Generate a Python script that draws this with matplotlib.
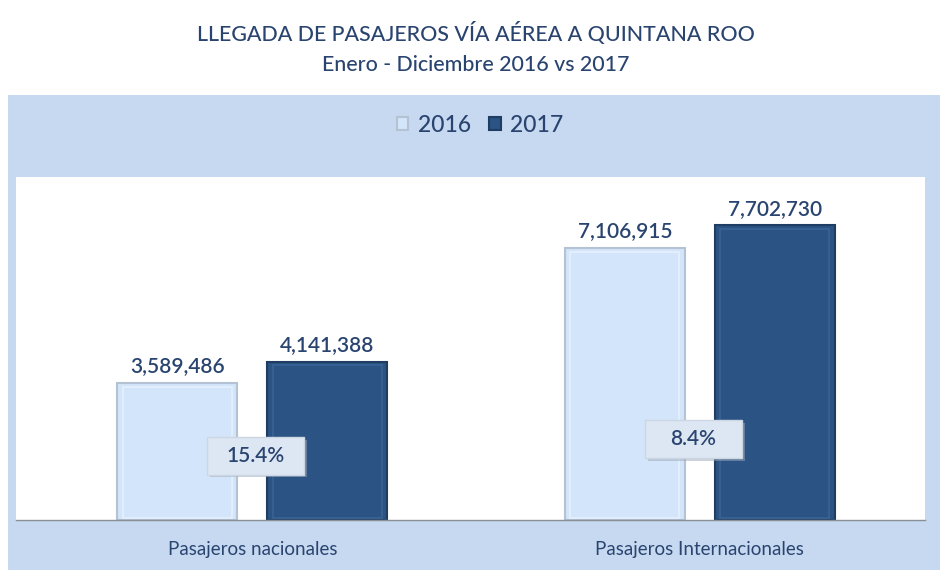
import matplotlib.pyplot as plt
import matplotlib.patches as patches
import numpy as np

plt.rcParams['font.family'] = ['Lato', 'DejaVu Sans']

# datos
categorias = ["Pasajeros nacionales", "Pasajeros Internacionales"]
anios = ["2016", "2017"]
valores_2016 = [3589486, 7106915]
valores_2017 = [4141388, 7702730]
# altura de las cajas de variación (pasajeros)
altura_caja = [1670000, 2110000]
desp_caja = [0.007, -0.014]

c_claro = "#d3e5fa"
c_oscuro = "#2b5383"
c_texto = "#2a4470"
c_panel = "#c6d9f0"

fig = plt.figure(figsize=(9.52, 5.82), dpi=100)
W, H = 952, 582

# panel de fondo azul claro
fig.patches.append(patches.Rectangle((8 / W, 1 - 570 / H), 932 / W, 475 / H,
                                     transform=fig.transFigure, facecolor=c_panel,
                                     edgecolor="none", zorder=-1))

fig.text(0.5, 1 - 33 / H, "LLEGADA DE PASAJEROS VÍA AÉREA A QUINTANA ROO",
         ha="center", va="center", fontsize=15.4, color=c_texto, fontweight="medium")
fig.text(0.5, 1 - 65 / H, "Enero - Diciembre 2016 vs 2017",
         ha="center", va="center", fontsize=15.4, color=c_texto, fontweight="medium")

ax = fig.add_axes([16 / W, 1 - 520 / H, 909 / W, 343 / H])
ax.set_zorder(1)
ax.set_facecolor("white")

x = np.arange(len(categorias))
ancho = 0.268
desp = 0.1676
b1 = ax.bar(x - desp, valores_2016, ancho, color=c_claro, edgecolor="#b4c2d4",
            linewidth=1.5, label=anios[0], zorder=2)
b2 = ax.bar(x + desp, valores_2017, ancho, color=c_oscuro, edgecolor="#1f3d63",
            linewidth=1.5, label=anios[1], zorder=2)

# brillo interior (bisel)
for barras, brillo in ((b1, "#e6f0fc"), (b2, "#3a6396")):
    for b in barras:
        ax.add_patch(patches.Rectangle((b.get_x() + 0.012, 60000),
                                       b.get_width() - 0.024, b.get_height() - 160000,
                                       facecolor="none", edgecolor=brillo,
                                       linewidth=1.2, zorder=3))

for barras in (b1, b2):
    for b in barras:
        v = b.get_height()
        ax.text(b.get_x() + b.get_width() / 2, v + 180000, f"{v:,.0f}",
                ha="center", va="bottom", fontsize=15, color=c_texto,
                fontweight="semibold")

# cajas de variación
cw, ch = 0.217, 990000
for i in range(len(categorias)):
    var = (valores_2017[i] / valores_2016[i] - 1) * 100
    cx = x[i] + desp_caja[i]
    ax.add_patch(patches.Rectangle((cx - cw / 2 + 0.006, altura_caja[i] - ch / 2 - 60000),
                                   cw, ch, facecolor="#9aa7b8", edgecolor="none",
                                   alpha=0.5, zorder=4))
    ax.add_patch(patches.Rectangle((cx - cw / 2, altura_caja[i] - ch / 2), cw, ch,
                                   facecolor="#dde7f3", edgecolor="#cdd7e3",
                                   linewidth=1, zorder=5))
    ax.text(cx, altura_caja[i], f"{var:.1f}%", ha="center", va="center",
            fontsize=15, color=c_texto, zorder=6, fontweight="semibold")

ax.set_xlim(-0.528, 1.503)
ax.set_ylim(0, 8970000)
ax.set_yticks([])
ax.set_xticks(x)
ax.set_xticklabels(categorias, fontsize=13.5, color=c_texto)
ax.tick_params(axis="x", length=0, pad=15)
for s in ["top", "left", "right"]:
    ax.spines[s].set_visible(False)
ax.spines["bottom"].set_color("#8a8f96")
ax.spines["bottom"].set_linewidth(1)

fig.legend(handles=[b1, b2], labels=anios, loc="center", ncol=2,
           bbox_to_anchor=(480 / W, 1 - 125 / H), frameon=False,
           prop={"size": 16.5, "weight": "medium"}, handlelength=0.5, handleheight=0.5,
           handletextpad=0.4, columnspacing=0.8, labelcolor=c_texto)

fig.savefig("out.png", dpi=100)
